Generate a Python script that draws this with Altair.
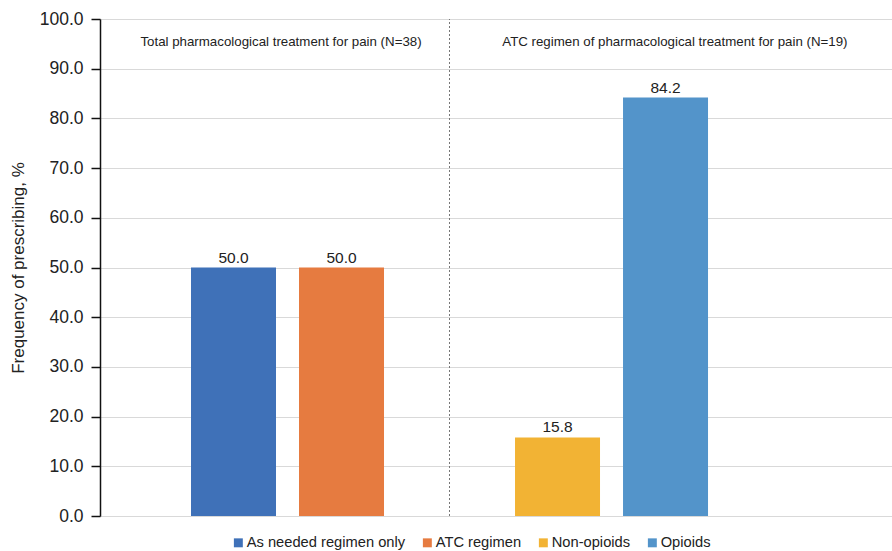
import altair as alt
import pandas as pd

categories = ["As needed regimen only", "ATC regimen", "Non-opioids", "Opioids"]
values = [50.0, 50.0, 15.8, 84.2]
colors = ["#3F71B8", "#E67B40", "#F2B334", "#5394CA"]
x_domain = ["As needed regimen only", "ATC regimen", "gap", "Non-opioids", "Opioids", "pad"]
group_labels = ["Total pharmacological treatment for pain (N=38)",
                "ATC regimen of pharmacological treatment for pain (N=19)"]
group_anchor = ["As needed regimen only", "Opioids"]
y_ticks = [0, 10, 20, 30, 40, 50, 60, 70, 80, 90, 100]

FONT = "Liberation Sans"

bars_df = pd.DataFrame({"cat": categories, "value": values})

xscale = alt.Scale(domain=x_domain, paddingInner=0.213, paddingOuter=0.773, align=0.545)
x_enc = alt.X("cat:N", scale=xscale, axis=None)
y_scale = alt.Scale(domain=[0, 100], nice=False)

bars = alt.Chart(bars_df).mark_bar().encode(
    x=x_enc,
    y=alt.Y("value:Q", scale=y_scale,
            axis=alt.Axis(values=y_ticks, format=".1f", title="Frequency of prescribing, %",
                          labelFontSize=17.5, titleFontSize=17, labelFont=FONT, titleFont=FONT,
                          labelColor="#222", titleColor="#222", titleFontWeight="normal",
                          domainColor="#111", domainWidth=1.5, tickColor="#111", tickWidth=1.5,
                          tickSize=9, labelPadding=8, titlePadding=12,
                          gridColor="#d9d9d9", gridWidth=1.2)),
    color=alt.Color("cat:N", scale=alt.Scale(domain=categories, range=colors),
                    legend=alt.Legend(title=None, orient="none", legendX=131, legendY=516,
                                      direction="horizontal", symbolType="square", symbolSize=80,
                                      symbolStrokeWidth=0, labelFontSize=14.7, labelFont=FONT,
                                      labelColor="#222", columnPadding=14, labelOffset=1)),
)

labels = alt.Chart(bars_df).mark_text(dy=-10, fontSize=15.5, font=FONT, color="#222").encode(
    x=x_enc, y=alt.Y("value:Q", scale=y_scale), text=alt.Text("value:Q", format=".1f"))

rule_df = pd.DataFrame({"cat": ["gap"], "lo": [0], "hi": [100]})
rule = alt.Chart(rule_df).mark_rule(strokeDash=[2, 2], color="#777", strokeWidth=1).encode(
    x=x_enc, y=alt.Y("lo:Q", scale=y_scale), y2="hi:Q")

g1 = pd.DataFrame({"cat": [group_anchor[0]], "label": [group_labels[0]], "y": [95.3]})
g2 = pd.DataFrame({"cat": [group_anchor[1]], "label": [group_labels[1]], "y": [95.3]})
glab1 = alt.Chart(g1).mark_text(fontSize=13.3, font=FONT, color="#222", dx=5).encode(
    x=alt.X("cat:N", scale=xscale, axis=None, bandPosition=1),
    y=alt.Y("y:Q", scale=y_scale), text="label:N")
glab2 = alt.Chart(g2).mark_text(fontSize=13.3, font=FONT, color="#222").encode(
    x=alt.X("cat:N", scale=xscale, axis=None, bandPosition=0.61),
    y=alt.Y("y:Q", scale=y_scale), text="label:N")

chart = alt.layer(rule, bars, labels, glab1, glab2).properties(
    width=792, height=497,
    autosize=alt.AutoSizeParams(type="none"),
    padding={"left": 100, "top": 19, "right": 0, "bottom": 35},
).configure_view(stroke=None).configure(background="white")

chart.save("out.html", embed_options={"renderer": "svg", "actions": False})
